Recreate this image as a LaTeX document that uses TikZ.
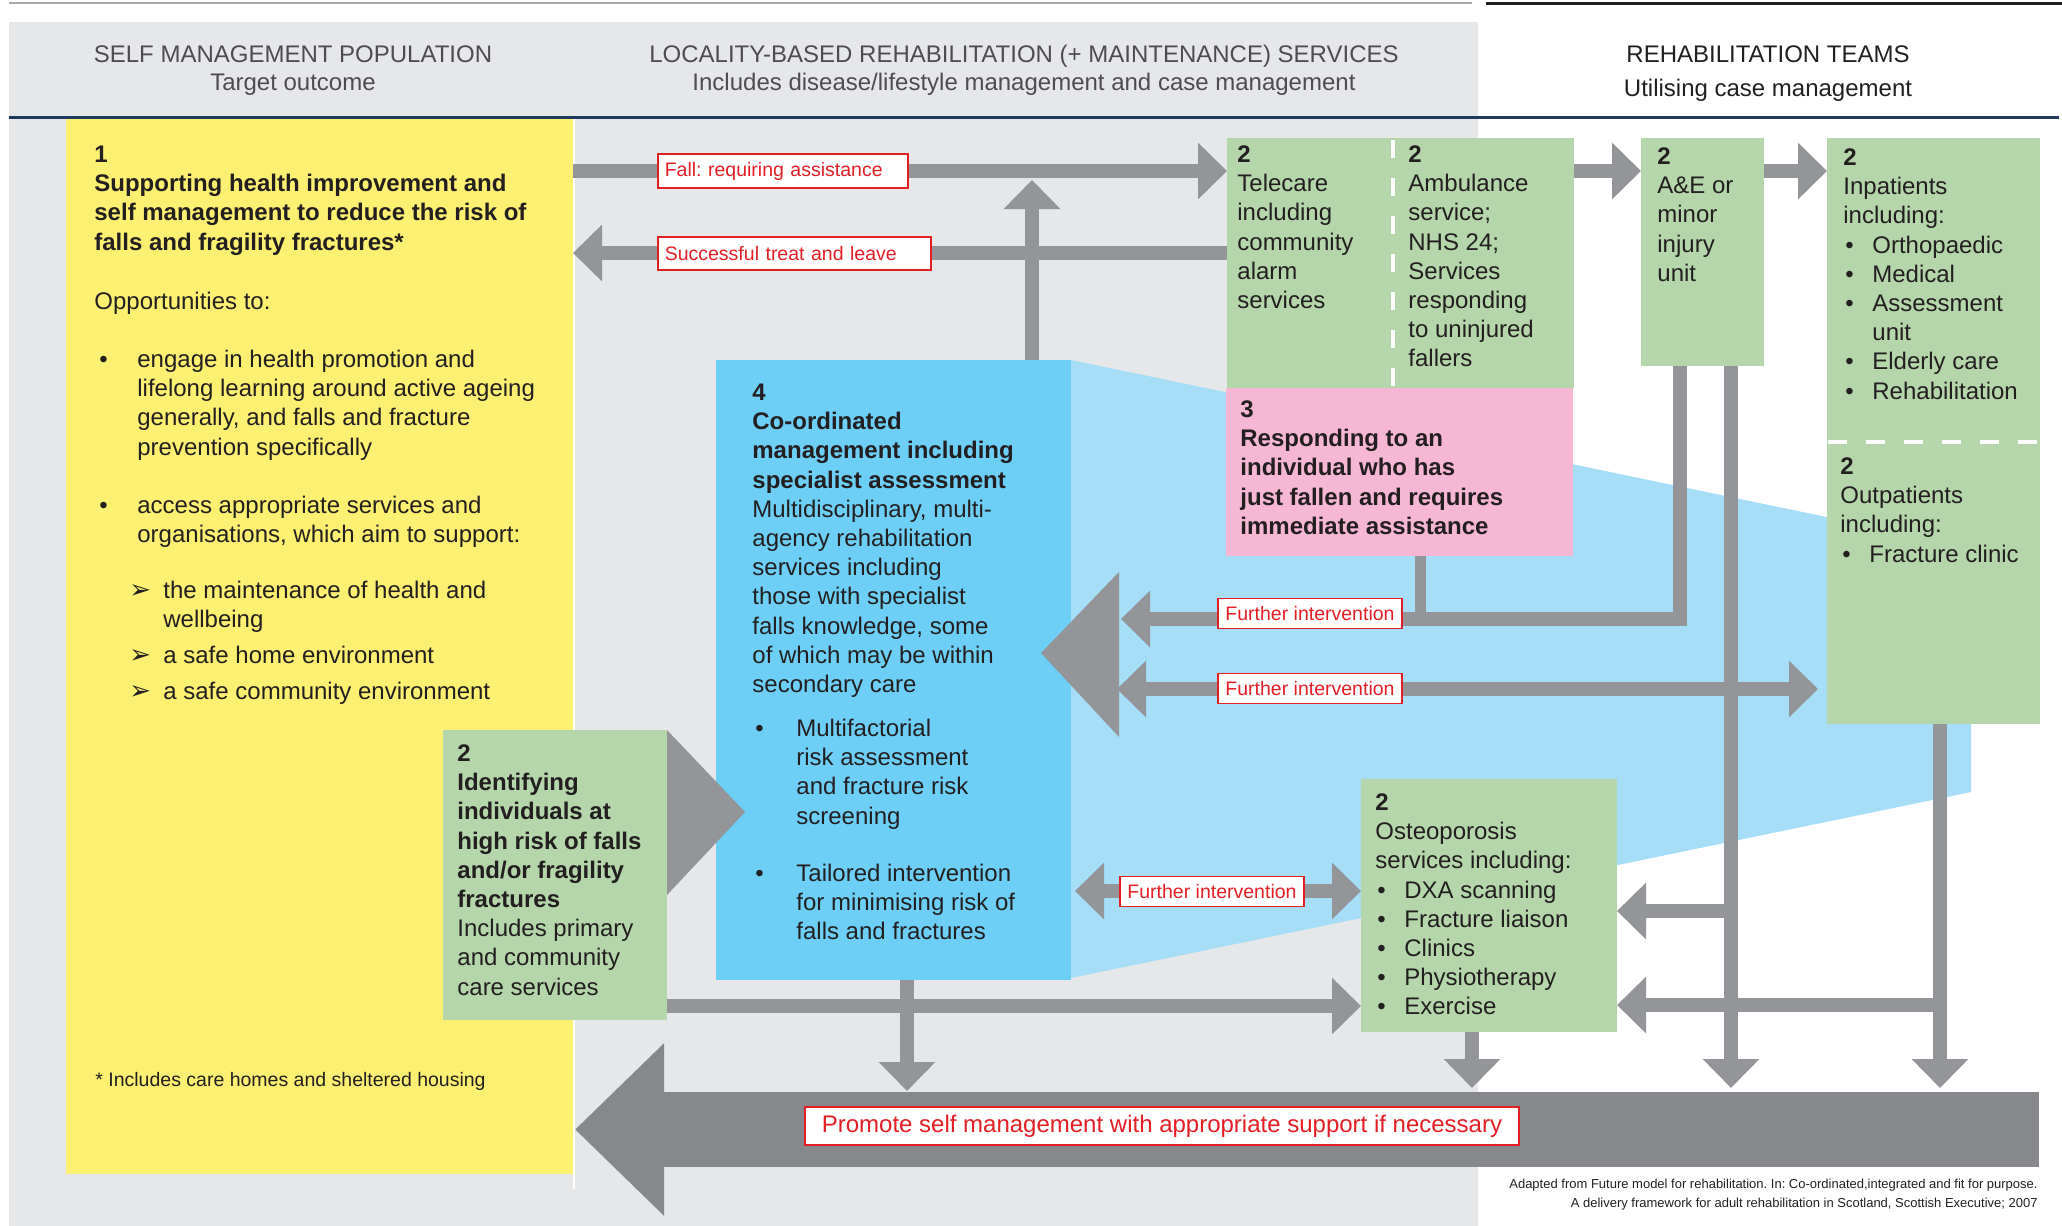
\documentclass[tikz,border=0pt]{standalone}
\usepackage{fontspec}
\setmainfont{Liberation Sans}
\newfontfamily\dejavu{DejaVu Sans}
\usetikzlibrary{arrows.meta,fit}
\definecolor{bggray}{HTML}{E6E7E8}
\definecolor{topgray}{HTML}{A7A9AC}
\definecolor{ink}{HTML}{231F20}
\definecolor{headink}{HTML}{4D4D4F}
\definecolor{navy}{HTML}{1F3A60}
\definecolor{yellowc}{HTML}{FCF073}
\definecolor{greenc}{HTML}{B5D6AA}
\definecolor{pinkc}{HTML}{F5B7D4}
\definecolor{bluec}{HTML}{6DCFF6}
\definecolor{lightblue}{HTML}{A5DEF6}
\definecolor{arrowgray}{HTML}{939598}
\definecolor{darkgray}{HTML}{87888C}
\definecolor{lblred}{HTML}{E31E24}
\newcommand\bodyf{\fontsize{12pt}{14.6pt}\selectfont}
\newcommand\lblf{\fontsize{9.75pt}{11pt}\selectfont}
\newcommand\srcf{\fontsize{6.5pt}{7pt}\selectfont}
\newcommand\fs{\rule{0pt}{10pt}}
\newcommand\bul{\hspace*{1pt}\makebox[13.5pt][l]{•}}
\frenchspacing
\begin{document}
\begin{tikzpicture}[x=0.5pt,y=-0.5pt,
  box/.style={inner sep=0pt, outer sep=0pt, draw=none},
  txt/.style={anchor=north west, inner sep=0pt, align=left, font=\bodyf, text=ink},
  hd/.style={anchor=base, inner sep=0pt, font=\bodyf, text=headink},
  bar/.style={color=arrowgray, line width=7pt},
  tipE/.style={-{Triangle[width=27.5pt,length=14.5pt]}},
  tipB/.style={{Triangle[width=27.5pt,length=14.5pt]}-{Triangle[width=27.5pt,length=14.5pt]}},
  redlbl/.style={draw=lblred, line width=0.8pt, fill=white, text=lblred, font=\lblf, inner sep=0pt},
  arb/.style={anchor=base west, inner sep=0pt, font=\dejavu\fontsize{13pt}{13pt}\selectfont, text=ink}]
\useasboundingbox (0,0) rectangle (2062,1226);
% background and header
\fill[bggray] (9,22) rectangle (1478,1226);
\draw[topgray, line width=1pt] (9,3) -- (1472,3);
\draw[ink, line width=1.5pt] (1486,3) -- (2062,3);
\draw[navy, line width=1.5pt] (9,117.5) -- (2059,117.5);
\node[hd] (h1a) at (293,62) {SELF MANAGEMENT POPULATION};
\node[hd] (h1b) at (293,90) {Target outcome};
\node[hd] (h2a) at (1024,62) {LOCALITY-BASED REHABILITATION (+ MAINTENANCE) SERVICES};
\node[hd] (h2b) at (1024,90) {Includes disease/lifestyle management and case management};
\node[hd, text=ink] (h3a) at (1768,62) {REHABILITATION TEAMS};
\node[hd, text=ink] (h3b) at (1768,96) {Utilising case management};
% boxes
\node[box, fill=yellowc, fit={(66,119) (573,1174)}] (Y) {};
\fill[lightblue] (1071,360) -- (1971,547) -- (1971,792) -- (1071,978) -- cycle;
\node[box, fill=bluec, fit={(716,360) (1071,980)}] (B) {};
\draw[white, line width=1pt] (574,119) -- (574,1189);
\node[box, fill=greenc, fit={(443,730) (667,1020)}] (ident) {};
\node[box, fill=greenc, fit={(1227,138) (1574,388)}] (tele) {};
\draw[white, line width=2pt, dash pattern=on 9pt off 10pt] (1393,140) -- (1393,388);
\node[box, fill=pinkc, fit={(1226,388) (1573,556)}] (pink) {};
\node[box, fill=greenc, fit={(1641,138) (1764,366)}] (ae) {};
\node[box, fill=greenc, fit={(1827,138) (2040,724)}] (inp) {};
\draw[white, line width=2pt, dash pattern=on 9.5pt off 9.5pt] (1828,442) -- (2040,442);
\node[box, fill=greenc, fit={(1361,779) (1617,1032)}] (osteo) {};
% gray chevrons
\fill[arrowgray] (ident.north east) -- (745,812) -- (667,895) -- cycle;
\fill[arrowgray] (1041,653) -- (1119,572) -- (1119,737) -- cycle;
% coordinates
\coordinate (yfall) at (0,171);
\coordinate (ytreat) at (0,253);
\coordinate (yF1) at (0,619);
\coordinate (yO1) at (0,911);
\coordinate (yO2) at (0,1005);
\coordinate (yId) at (0,1006);
\coordinate (ybot) at (0,1088);
\coordinate (ybot2) at (0,1091);
\coordinate (xA) at (1680,0);
\coordinate (xB) at (1731,0);
\coordinate (xC) at (1940,0);
\coordinate (xD) at (1420,0);
\coordinate (xE) at (1032,0);
\coordinate (xF) at (907,0);
\coordinate (xG) at (1472,0);
\coordinate (xH) at (1121,0);
\coordinate (f2L) at (1117,689);
\coordinate (f2R) at (1818,689);
\coordinate (f3L) at (1075,891);
\coordinate (bigS) at (2039,1129.5);
\coordinate (bigT) at (575,1129.5);
% arrows
\draw[bar,tipE] (Y.east |- yfall) -- (tele.west |- yfall);
\draw[bar,tipE] (tele.west |- ytreat) -- (Y.east |- ytreat);
\draw[bar,tipE] (B.north -| xE) -- ++(0,-180);
\draw[bar,tipE] (tele.east |- yfall) -- (ae.west |- yfall);
\draw[bar,tipE] (ae.east |- yfall) -- (inp.west |- yfall);
\draw[bar,tipE] (ae.south -| xA) |- (xH |- yF1);
\draw[bar, line width=5.5pt] (pink.south -| xD) -- (xD |- yF1);
\draw[bar,tipB] (f2L) -- (f2R);
\draw[bar,tipE] (ae.south -| xB) -- (xB |- ybot);
\draw[bar,tipE] (inp.south -| xC) -- (xC |- ybot);
\draw[bar,tipE] (xB |- yO1) -- (osteo.east |- yO1);
\draw[bar,tipE] (xC |- yO2) -- (osteo.east |- yO2);
\draw[bar,tipE] (osteo.south -| xG) -- (xG |- ybot);
\draw[bar,tipB] (f3L) -- (osteo.west |- f3L);
\draw[bar,tipE] (ident.east |- yId) -- (osteo.west |- yId);
\draw[bar,tipE] (B.south -| xF) -- (xF |- ybot2);
\draw[color=darkgray, line width=37.5pt, -{Triangle[width=83.5pt,length=44.5pt]}] (bigS) -- (bigT);
% labels
\node[redlbl, minimum width=125pt, minimum height=17pt, text width=118pt, align=left, anchor=west] (lfall) at (657,171) {Fall: requiring assistance};
\node[redlbl, minimum width=136.5pt, minimum height=16.5pt, text width=129.5pt, align=left, anchor=west] (ltreat) at (657,253.5) {Successful treat and leave};
\node[redlbl, minimum width=92pt, minimum height=15pt] (lf1) at (1310,613.5) {Further intervention};
\node[redlbl, minimum width=92pt, minimum height=15pt] (lf2) at (1310,688.5) {Further intervention};
\node[redlbl, minimum width=92pt, minimum height=15pt] (lf3) at (1212,891.5) {Further intervention};
\node[redlbl, font=\bodyf, minimum width=357pt, minimum height=19pt] (lprom) at (1162,1126) {Promote self management with appropriate support if necessary};
% yellow texts
\node[txt] (ty1) at (94,142) {\fs\textbf{1}\\\textbf{Supporting health improvement and}\\\textbf{self management to reduce the risk of}\\\textbf{falls and fragility fractures*}};
\node[txt] (ty2) at (94,289) {\fs Opportunities to:};
\node[txt] (tyb1) at (99,347) {\fs•};
\node[txt] (ty3) at (137,347) {\fs engage in health promotion and\\lifelong learning around active ageing\\generally, and falls and fracture\\prevention specifically};
\node[txt] (tyb2) at (99,493) {\fs•};
\node[txt] (ty4) at (137,493) {\fs access appropriate services and\\organisations, which aim to support:};
\node[arb] (ar1) at (129,598) {➢};
\node[arb] (ar2) at (129,663) {➢};
\node[arb] (ar3) at (129,699) {➢};
\node[txt] (ty5) at (163,578) {\fs the maintenance of health and\\wellbeing};
\node[txt] (ty6) at (163,643) {\fs a safe home environment};
\node[txt] (ty7) at (163,679) {\fs a safe community environment};
\node[anchor=base west, inner sep=0pt, font=\lblf, text=ink] (foot) at (95,1086) {* Includes care homes and sheltered housing};
% blue texts
\node[txt] (tb1) at (752,380) {\fs\textbf{4}\\\textbf{Co-ordinated}\\\textbf{management including}\\\textbf{specialist assessment}\\Multidisciplinary, multi-\\agency rehabilitation\\services including\\those with specialist\\falls knowledge, some\\of which may be within\\secondary care};
\node[txt] (tbb1) at (755,716) {\fs•};
\node[txt] (tb2) at (796,716) {\fs Multifactorial\\risk assessment\\and fracture risk\\screening};
\node[txt] (tbb2) at (755,861) {\fs•};
\node[txt] (tb3) at (796,861) {\fs Tailored intervention\\for minimising risk of\\falls and fractures};
% green / pink texts
\node[txt] (ttel) at (1237,142) {\fs\textbf{2}\\Telecare\\including\\community\\alarm\\services};
\node[txt] (tamb) at (1408,142) {\fs\textbf{2}\\Ambulance\\service;\\NHS 24;\\Services\\responding\\to uninjured\\fallers};
\node[txt] (tae) at (1657,144) {\fs\textbf{2}\\A\&E or\\minor\\injury\\unit};
\node[txt] (tinp) at (1843,145) {\fs\textbf{2}\\Inpatients\\including:\\\bul Orthopaedic\\\bul Medical\\\bul Assessment\\\hspace*{14.5pt}unit\\\bul Elderly care\\\bul Rehabilitation};
\node[txt] (tout) at (1840,454) {\fs\textbf{2}\\Outpatients\\including:\\\bul Fracture clinic};
\node[txt] (tpink) at (1240,397) {\fs\textbf{3}\\\textbf{Responding to an}\\\textbf{individual who has}\\\textbf{just fallen and requires}\\\textbf{immediate assistance}};
\node[txt] (tid) at (457,741) {\fs\textbf{2}\\\textbf{Identifying}\\\textbf{individuals at}\\\textbf{high risk of falls}\\\textbf{and/or fragility}\\\textbf{fractures}\\Includes primary\\and community\\care services};
\node[txt] (tost) at (1375,790) {\fs\textbf{2}\\Osteoporosis\\services including:\\\bul DXA scanning\\\bul Fracture liaison\\\bul Clinics\\\bul Physiotherapy\\\bul Exercise};
% source
\node[anchor=base east, inner sep=0pt, font=\srcf, text=ink] (src1) at (2038,1188) {Adapted from Future model for rehabilitation. In: Co-ordinated,integrated and fit for purpose.};
\node[anchor=base east, inner sep=0pt, font=\srcf, text=ink] (src2) at (2038,1207) {A delivery framework for adult rehabilitation in Scotland, Scottish Executive; 2007};
\end{tikzpicture}
\end{document}
